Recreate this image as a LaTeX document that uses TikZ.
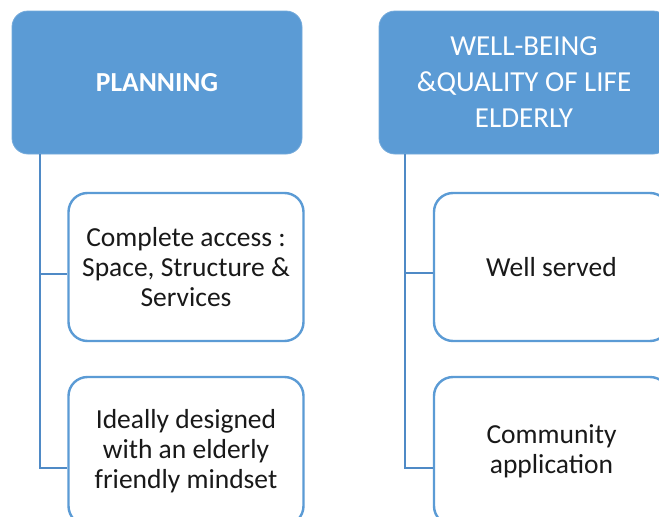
\documentclass[tikz,border=0pt]{standalone}
\usepackage{fontspec}
\setmainfont{Carlito}
\definecolor{hdrblue}{HTML}{5B9BD5}
\definecolor{edgeblue}{HTML}{5B9BD5}
\definecolor{lineblue}{HTML}{4F8AC6}
\begin{document}
\begin{tikzpicture}[x=1pt,y=-1pt,
  header/.style={draw=hdrblue!85!white, line width=0.8pt, fill=hdrblue, rounded corners=16pt,
    minimum width=290pt, minimum height=143pt, text=white, align=center,
    font=\fontsize{29}{36}\selectfont, inner sep=0pt},
  child/.style={draw=edgeblue, line width=2.4pt, fill=white, rounded corners=19pt,
    minimum width=235pt, minimum height=148pt, text=black!90, align=center,
    font=\fontsize{27.5}{30}\selectfont, inner sep=0pt},
  conn/.style={draw=lineblue, line width=2pt}]
\clip (0,0) rectangle (659,517);
\fill[white] (0,0) rectangle (659,517);
\node[header] (hL) at (157,82.5) {\fontsize{27.5}{36}\selectfont\bfseries PLANNING};
\node[header] (hR) at (524,82.5) {WELL-BEING\\\&QUALITY OF LIFE\\ELDERLY};
\node[child] (l1) at (186,267) {Complete access :\\Space, Structure \&\\Services};
\node[child] (l2) at (186,451) {Ideally designed\\with an elderly\\friendly mindset};
\node[child] (r1) at (551.5,267) {Well served};
\node[child] (r2) at (551.5,451) {Community\\application};
\coordinate (lv) at ([xshift=28pt]hL.south west);
\coordinate (rv) at ([xshift=26pt]hR.south west);
\coordinate (l1in) at ([yshift=-7pt]l1.west);
\coordinate (l2in) at ([yshift=-17pt]l2.west);
\coordinate (r1in) at ([yshift=-6pt]r1.west);
\coordinate (r2in) at ([yshift=-17pt]r2.west);
\draw[conn] (lv) |- (l2in);
\draw[conn] (lv |- l1in) -- (l1in);
\draw[conn] (rv) |- (r2in);
\draw[conn] (rv |- r1in) -- (r1in);
\end{tikzpicture}
\end{document}
